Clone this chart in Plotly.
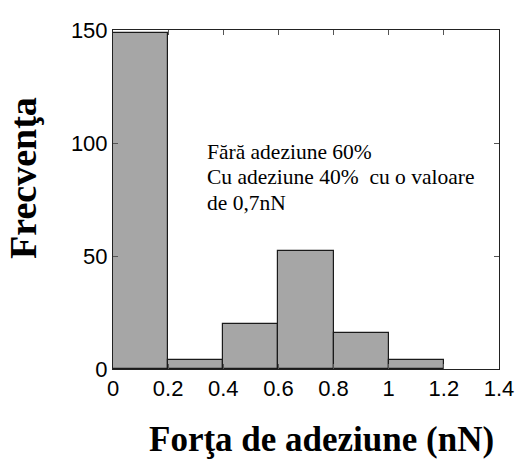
import plotly.graph_objects as go

bin_left = [0.0, 0.2, 0.4, 0.6, 0.8, 1.0]
bin_width = 0.2
counts = [148.5, 4, 20, 52, 16, 4]
x_ticks = [0, 0.2, 0.4, 0.6, 0.8, 1.0, 1.2, 1.4]
x_tick_text = ["0", "0.2", "0.4", "0.6", "0.8", "1", "1.2", "1.4"]
y_ticks = [0, 50, 100, 150]
note_lines = ["Fără adeziune 60%", "Cu adeziune 40%  cu o valoare", "de 0,7nN"]
x_title = "Forţa de adeziune (nN)"
y_title = "Frecvenţa"

centers = [b + bin_width / 2 for b in bin_left]

fig = go.Figure()
fig.add_trace(go.Bar(
    x=centers, y=counts, width=[bin_width] * len(counts),
    marker=dict(color="#a6a6a6", line=dict(color="#1a1a1a", width=1.2)),
    showlegend=False, hoverinfo="skip"))

serif = "Liberation Serif, Times New Roman, serif"
sans = "Liberation Sans, Arial, sans-serif"

annotations = []
for i, line in enumerate(note_lines):
    annotations.append(dict(
        x=0.238, y=0.640 - i * 0.075, xref="paper", yref="paper",
        xanchor="left", yanchor="middle", text=line, showarrow=False, align="left",
        font=dict(family=serif, size=21.5, color="black")))
annotations.append(dict(
    x=0.539, y=-0.209, xref="paper", yref="paper", xanchor="center", yanchor="middle",
    text="<b>" + x_title + "</b>", showarrow=False,
    font=dict(family=serif, size=35, color="black")))
annotations.append(dict(
    x=-0.232, y=0.565, xref="paper", yref="paper", xanchor="center", yanchor="middle",
    text="<b>" + y_title + "</b>", showarrow=False, textangle=-90,
    font=dict(family=serif, size=38, color="black")))

fig.update_layout(
    width=517, height=459,
    margin=dict(l=113, r=18, t=30, b=90, autoexpand=False),
    plot_bgcolor="white", paper_bgcolor="white",
    bargap=0,
    xaxis=dict(range=[0, 1.4], tickvals=x_ticks, ticktext=x_tick_text,
               showgrid=False, zeroline=False, showline=True, linecolor="#222",
               linewidth=1, mirror="ticks", ticks="inside", ticklen=5, tickcolor="#555",
               ticklabeloverflow="allow", automargin=False,
               tickfont=dict(family=sans, size=22, color="black")),
    yaxis=dict(range=[0, 150], tickvals=y_ticks,
               showgrid=False, zeroline=False, showline=True, linecolor="#222",
               linewidth=1, mirror="ticks", ticks="inside", ticklen=5, tickcolor="#555",
               automargin=False,
               tickfont=dict(family=sans, size=22, color="black")),
    annotations=annotations,
)

fig.write_html("out.html", config={"displayModeBar": False},
               post_script="document.body.style.margin='0';document.body.style.overflow='hidden';")
